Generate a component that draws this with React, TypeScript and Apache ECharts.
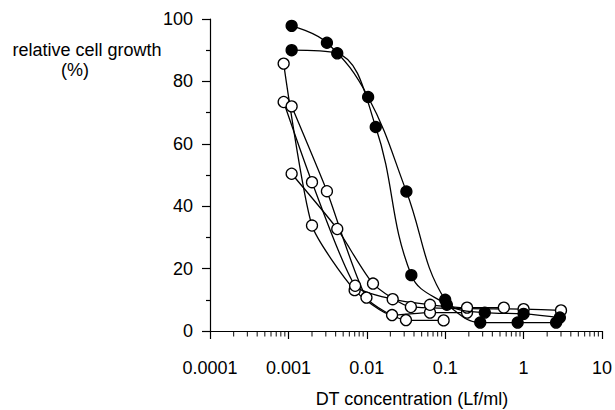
import React, { useEffect, useRef } from "react";
import * as echarts from "echarts";

// Filled-circle series (concentration in Lf/ml, relative growth in %)
const filledAX = [0.0011, 0.0031, 0.0104, 0.032, 0.1, 0.32, 1.0, 2.9];
const filledAY = [97.8, 92.4, 75, 44.7, 10, 5.9, 5.5, 4.3];
const filledBX = [0.0011, 0.0042, 0.013, 0.037, 0.105, 0.28, 0.84, 2.6];
const filledBY = [90, 89, 65.4, 17.9, 8.4, 2.7, 2.7, 2.7];

// Open-circle series
const open1X = [0.00087, 0.002, 0.007, 0.021, 0.064, 0.19];
const open1Y = [85.7, 33.8, 13.1, 5.1, 5.9, 5.9];
const open2X = [0.00087, 0.002, 0.0071, 0.0214, 0.064, 0.19, 0.56];
const open2Y = [73.4, 47.7, 14.5, 10.2, 8.4, 7.5, 7.5];
const open3X = [0.0011, 0.0031, 0.0099, 0.0316, 0.0955];
const open3Y = [72, 44.8, 10.7, 3.5, 3.4];
const open4X = [0.0011, 0.0042, 0.012, 0.0365, 1.0, 3.0];
const open4Y = [50.4, 32.7, 15.2, 7.7, 7.0, 6.6];

// Axis ranges / tick labels
const xMin = 0.0001;
const xMax = 10;
const xTickLabels = ["0.0001", "0.001", "0.01", "0.1", "1", "10"];
const yTickLabels = ["0", "20", "40", "60", "80", "100"];
const minorMultipliers = [2, 3, 4, 5, 6, 7, 8, 9];
const decades = [0.0001, 0.001, 0.01, 0.1, 1];

const FONT = "Liberation Sans, Arial, Helvetica, sans-serif";

const pairs = (xs: number[], ys: number[]) => xs.map((x, i) => [x, ys[i]]);

export default function App() {
  const ref = useRef<HTMLDivElement>(null);

  useEffect(() => {
    if (!ref.current) return;
    const chart = echarts.init(ref.current, null, { renderer: "svg" });

    const lineStyle = { color: "#000", width: 1.3 };
    const mk = (name: string, xs: number[], ys: number[], filled: boolean, smooth: number) => ({
      name,
      type: "line",
      data: pairs(xs, ys),
      smooth,
      symbol: "circle",
      symbolSize: 11,
      lineStyle,
      itemStyle: {
        color: filled ? "#000" : "#fff",
        borderColor: "#000",
        borderWidth: 1.3,
      },
      z: filled ? 4 : 3,
      silent: true,
    });

    const minorTicks: number[][] = [];
    decades.forEach((d) => minorMultipliers.forEach((m) => minorTicks.push([m * d, 0])));

    chart.setOption({
      animation: false,
      backgroundColor: "#fff",
      grid: { left: 210, right: 9, top: 19, bottom: 79, containLabel: false },
      xAxis: {
        type: "log",
        logBase: 10,
        min: xMin,
        max: xMax,
        axisLine: { show: true, lineStyle: { color: "#000", width: 1.2 } },
        axisTick: { show: true, length: 8, inside: false, lineStyle: { color: "#000", width: 1.2 } },
        splitLine: { show: false },
        axisLabel: {
          show: true,
          margin: 28,
          fontFamily: FONT,
          fontSize: 18,
          color: "#000",
          formatter: (v: number) => {
            const idx = Math.round(Math.log10(v) + 4);
            return xTickLabels[idx] ?? "";
          },
        },
      },
      yAxis: {
        type: "value",
        min: 0,
        max: 100,
        interval: 20,
        axisLine: { show: true, lineStyle: { color: "#000", width: 1.2 } },
        axisTick: { show: true, length: 8, lineStyle: { color: "#000", width: 1.2 } },
        minorTick: { show: true, splitNumber: 2, length: 4, lineStyle: { color: "#000", width: 1.2 } },
        splitLine: { show: false },
        axisLabel: {
          show: true,
          margin: 17,
          fontFamily: FONT,
          fontSize: 18,
          color: "#000",
          formatter: (v: number) => yTickLabels[Math.round(v / 20)] ?? "",
        },
      },
      graphic: [
        {
          type: "text",
          x: 87,
          y: 50,
          style: {
            text: "relative cell growth",
            font: `18px ${FONT}`,
            fill: "#000",
            align: "center",
            verticalAlign: "middle",
          },
        },
        {
          type: "text",
          x: 75,
          y: 70,
          style: {
            text: "(%)",
            font: `18px ${FONT}`,
            fill: "#000",
            align: "center",
            verticalAlign: "middle",
          },
        },
        {
          type: "text",
          x: 412,
          y: 399,
          style: {
            text: "DT concentration (Lf/ml)",
            font: `18px ${FONT}`,
            fill: "#000",
            align: "center",
            verticalAlign: "middle",
          },
        },
      ],
      series: [
        {
          name: "minorTicks",
          type: "scatter",
          data: minorTicks,
          symbol: "rect",
          symbolSize: [1.2, 5],
          symbolOffset: [0, 3],
          itemStyle: { color: "#000" },
          clip: false,
          silent: true,
          z: 1,
        },
        mk("open1", open1X, open1Y, false, 0.2),
        mk("open2", open2X, open2Y, false, 0.2),
        mk("open3", open3X, open3Y, false, 0.2),
        mk("open4", open4X, open4Y, false, 0.2),
        mk("filledA", filledAX, filledAY, true, 0.4),
        mk("filledB", filledBX, filledBY, true, 0.4),
      ],
    });

    return () => chart.dispose();
  }, []);

  return <div ref={ref} style={{ width: 615, height: 410, position: "absolute", left: 0, top: 0 }} />;
}
